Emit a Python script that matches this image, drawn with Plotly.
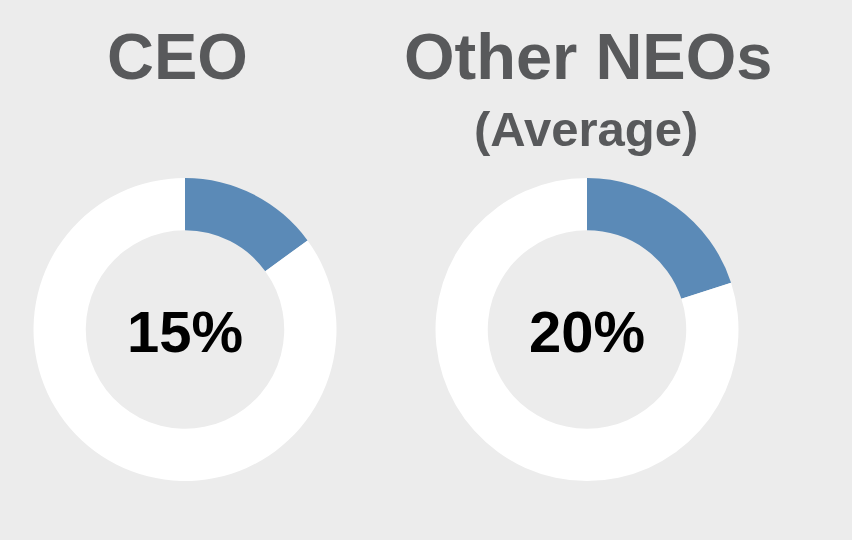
import plotly.graph_objects as go

W, H = 852, 540
groups = ["CEO", "Other NEOs"]
subtitles = ["", "(Average)"]
shares = [15, 20]
labels = ["Share", "Rest"]

BG = "#ECECEC"
BLUE = "#5B8AB7"
GRAY = "#58595B"
FONT = "Liberation Sans, Arial, sans-serif"

centers_x = [185, 587]
center_y = 329.5
R = 151.5

fig = go.Figure()
for i, (g, s) in enumerate(zip(groups, shares)):
    cx = centers_x[i]
    fig.add_trace(go.Pie(
        values=[s, 100 - s], labels=labels, sort=False, direction="clockwise",
        rotation=0, hole=0.655, textinfo="none", hoverinfo="skip",
        marker=dict(colors=[BLUE, "#FFFFFF"], line=dict(width=0)),
        domain=dict(x=[(cx - R) / W, (cx + R) / W],
                    y=[(H - center_y - R) / H, (H - center_y + R) / H]),
        showlegend=False,
    ))
    fig.add_annotation(x=cx / W, y=1 - 331 / H, xref="paper", yref="paper",
                       text=f"<b>{s}%</b>", showarrow=False,
                       font=dict(family=FONT, size=58, color="#000000"),
                       xanchor="center", yanchor="middle")

fig.add_annotation(x=177 / W, y=1 - 57 / H, xref="paper", yref="paper",
                   text=f"<b>{groups[0]}</b>", showarrow=False,
                   font=dict(family=FONT, size=65, color=GRAY),
                   xanchor="center", yanchor="middle")
fig.add_annotation(x=587.5 / W, y=1 - 57 / H, xref="paper", yref="paper",
                   text=f"<b>{groups[1]}</b>", showarrow=False,
                   font=dict(family=FONT, size=65, color=GRAY),
                   xanchor="center", yanchor="middle")
fig.add_annotation(x=586 / W, y=1 - 129 / H, xref="paper", yref="paper",
                   text=f"<b>{subtitles[1]}</b>", showarrow=False,
                   font=dict(family=FONT, size=49, color=GRAY),
                   xanchor="center", yanchor="middle")

fig.update_layout(width=W, height=H, margin=dict(l=0, r=0, t=0, b=0),
                  paper_bgcolor=BG, plot_bgcolor=BG)
fig.write_html("out.html", config={"displayModeBar": False},
               post_script="document.body.style.margin='0';")
